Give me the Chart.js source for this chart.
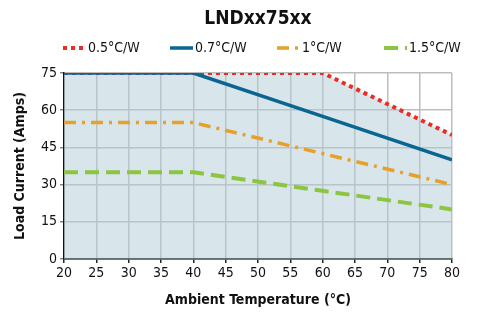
<!DOCTYPE html>
<html>
<head>
<meta charset="utf-8">
<script src="https://cdn.jsdelivr.net/npm/chart.js@4.4.0/dist/chart.umd.min.js"></script>
<style>
  html, body { margin: 0; padding: 0; background: #fff; }
  #wrap { width: 477px; height: 316px; }
</style>
</head>
<body>
<div id="wrap"><canvas id="chart"></canvas></div>
<script>
    // data
    const chartTitle = "LNDxx75xx"
    const temps = [20, 40, 60, 80]
    const curve05 = [75, 75, 75, 50]
    const curve07 = [75, 75, 57.5, 40]
    const curve1 = [55, 55, 42.5, 30]
    const curve15 = [35, 35, 27.5, 20]
    const seriesNames = ["0.5°C/W", "0.7°C/W", "1°C/W", "1.5°C/W"]
    const xTickStep = 5
    const yTickStep = 15

    const narrow = "'Liberation Sans Narrow', 'DejaVu Sans Condensed', 'Roboto', sans-serif"

    const toPoints = function(arr){
        return temps.map((t, i) => ({x: t, y: arr[i]}))
    }

    // legend + title drawn on the canvas
    const extras = {
        id: "extras",
        afterDraw(chart){
            const ctx = chart.ctx
            const area = chart.chartArea
            ctx.save()
            ctx.fillStyle = "#111"
            ctx.font = "bold 19px " + narrow
            ctx.textAlign = "center"
            ctx.textBaseline = "middle"
            ctx.fillText(chartTitle, (area.left + area.right) / 2, 19)

            ctx.font = "14px " + narrow
            ctx.textAlign = "left"
            const y = 48
            chart.data.datasets.forEach((ds, i) => {
                const x0 = area.left - 1 + i * 107
                ctx.beginPath()
                ctx.strokeStyle = ds.borderColor
                ctx.lineWidth = ds.borderWidth
                ctx.setLineDash(ds.borderDash || [])
                ctx.moveTo(x0, y)
                ctx.lineTo(x0 + 23, y)
                ctx.stroke()
                ctx.setLineDash([])
                ctx.fillStyle = "#111"
                ctx.fillText(ds.label, x0 + 25, y)
            })
            ctx.restore()
        }
    }

    const data = {
        datasets: [
            {
                label: seriesNames[0],
                data: toPoints(curve05),
                borderColor: "#ec2b25",
                borderWidth: 4,
                borderDash: [4, 4],
                fill: "origin",
                backgroundColor: "rgba(178, 204, 216, 0.5)",
                order: 3
            },
            {
                label: seriesNames[1],
                data: toPoints(curve07),
                borderColor: "#0b6593",
                borderWidth: 3.5,
                fill: false,
                order: 0
            },
            {
                label: seriesNames[2],
                data: toPoints(curve1),
                borderColor: "#e8a029",
                borderWidth: 3.5,
                borderDash: [12, 6, 3, 6],
                fill: false,
                order: 1
            },
            {
                label: seriesNames[3],
                data: toPoints(curve15),
                borderColor: "#8cc540",
                borderWidth: 4,
                borderDash: [14, 7],
                fill: false,
                order: 2
            }
        ]
    }

    const config = {
        type: "line",
        data: data,
        options: {
            responsive: true,
            maintainAspectRatio: false,
            animation: false,
            layout: { padding: { top: 73, right: 25, left: 0, bottom: 0 } },
            elements: { point: { radius: 0 }, line: { tension: 0 } },
            plugins: {
                legend: { display: false },
                title: { display: false },
                tooltip: { enabled: false }
            },
            scales: {
                x: {
                    type: "linear",
                    min: 20,
                    max: 80,
                    ticks: { stepSize: xTickStep, color: "#111", font: { family: narrow, size: 14 }, padding: 2 },
                    grid: { color: "#bdbdbd", lineWidth: 1.5, tickColor: "#222", tickLength: 4 },
                    border: { color: "#111", width: 1.5 },
                    title: { display: true, text: "Ambient Temperature (°C)", color: "#111", font: { family: narrow, size: 14, weight: "bold" }, padding: { top: 4, bottom: 7 } },
                    afterFit(scale){ scale.height = 57 }
                },
                y: {
                    min: 0,
                    max: 75,
                    ticks: { stepSize: yTickStep, color: "#111", font: { family: narrow, size: 14 }, padding: 3 },
                    grid: { color: "#bdbdbd", lineWidth: 1.5, tickColor: "#888", tickLength: 4 },
                    border: { color: "#111", width: 1.5 },
                    title: { display: true, text: "Load Current (Amps)", color: "#111", font: { family: narrow, size: 14, weight: "bold" }, padding: { top: 12, bottom: 0 } },
                    afterFit(scale){ scale.width = 64 }
                }
            }
        },
        plugins: [extras]
    }

    const myChart = new Chart(document.querySelector("#chart"), config)
</script>
</body>
</html>
